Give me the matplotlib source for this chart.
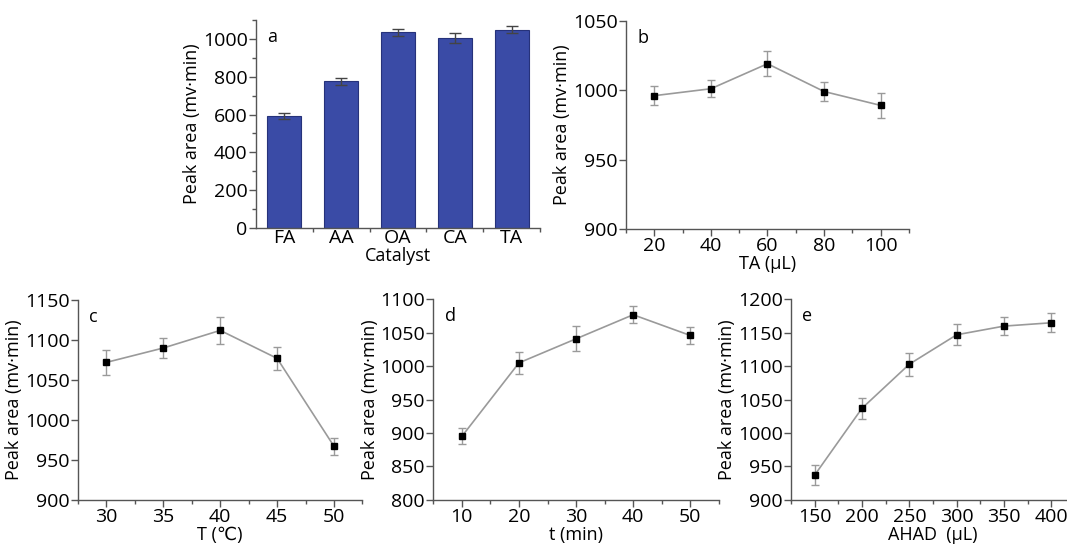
import matplotlib
matplotlib.use("Agg")
import matplotlib.pyplot as plt
from matplotlib.ticker import MultipleLocator, FixedLocator

plt.rcParams['font.family'] = ['Open Sans', 'DejaVu Sans']

# Panel a
catalysts = ["FA", "AA", "OA", "CA", "TA"]
catalyst_area = [593, 775, 1035, 1005, 1049]
catalyst_err = [16, 18, 18, 27, 19]

# Panel b
ta_vol = [20, 40, 60, 80, 100]
ta_area = [996, 1001, 1019, 999, 989]
ta_err = [7, 6, 9, 7, 9]

# Panel c
temp = [30, 35, 40, 45, 50]
temp_area = [1072, 1090, 1112, 1077, 967]
temp_err = [16, 12, 17, 14, 11]

# Panel d
time_min = [10, 20, 30, 40, 50]
time_area = [895, 1005, 1041, 1077, 1046]
time_err = [12, 16, 19, 13, 13]

# Panel e
ahad = [150, 200, 250, 300, 350, 400]
ahad_area = [937, 1037, 1103, 1147, 1160, 1165]
ahad_err = [15, 16, 17, 16, 13, 14]

fig = plt.figure(figsize=(10.67, 5.46), dpi=100)

TFS = 14
LFS = 13
spine_col = "#555555"

def style(ax):
    for s in ["top", "right"]:
        ax.spines[s].set_visible(False)
    for s in ["left", "bottom"]:
        ax.spines[s].set_color(spine_col)
        ax.spines[s].set_linewidth(1.0)
    ax.tick_params(which="major", direction="out", length=5, width=1, color=spine_col,
                   labelsize=TFS, pad=1)
    ax.tick_params(which="minor", direction="out", length=3, width=1, color=spine_col)
    ax.set_ylabel("Peak area (mv·min)", fontsize=LFS, labelpad=1)

def line_panel(rect, x, y, e, xlim, ylim, xmaj, ymaj, xlabel, letter):
    ax = fig.add_axes(rect)
    ax.errorbar(x, y, yerr=e, color="#9a9a9a", ecolor="#9a9a9a", elinewidth=1,
                capsize=3, capthick=1, lw=1.2, marker="s", ms=5,
                mfc="black", mec="black", zorder=3)
    ax.set_xlim(*xlim)
    ax.set_ylim(*ylim)
    ax.xaxis.set_major_locator(MultipleLocator(xmaj))
    ax.xaxis.set_minor_locator(MultipleLocator(xmaj / 2))
    ax.yaxis.set_major_locator(MultipleLocator(ymaj))
    ax.set_xlabel(xlabel, fontsize=LFS, labelpad=0)
    style(ax)
    ax.text(0.04, 0.96, letter, transform=ax.transAxes, fontsize=LFS, va="top", ha="left")
    return ax

# a
axa = fig.add_axes([0.2399, 0.5824, 0.2662, 0.381])
xs = list(range(1, len(catalysts) + 1))
axa.bar(xs, catalyst_area, width=0.6, color="#3a4ba6", edgecolor="#26327a", linewidth=0.8,
        yerr=catalyst_err, error_kw=dict(ecolor="#444444", elinewidth=1, capsize=4, capthick=1))
axa.set_xlim(0.5, 5.5)
axa.set_ylim(0, 1100)
axa.set_xticks(xs)
axa.set_xticklabels(catalysts)
axa.xaxis.set_minor_locator(FixedLocator([1.5, 2.5, 3.5, 4.5, 5.5]))
axa.yaxis.set_major_locator(FixedLocator([0, 200, 400, 600, 800, 1000]))
axa.yaxis.set_minor_locator(MultipleLocator(100))
axa.set_xlabel("Catalyst", fontsize=LFS, labelpad=0)
style(axa)
axa.tick_params(axis="x", which="major", length=0)
axa.text(0.04, 0.96, "a", transform=axa.transAxes, fontsize=LFS, va="top", ha="left")

# b
line_panel([0.5867, 0.5806, 0.2652, 0.3815], ta_vol, ta_area, ta_err,
           (10, 110), (900, 1050), 20, 50, "TA (μL)", "b")
# c
line_panel([0.0731, 0.0845, 0.2666, 0.366], temp, temp_area, temp_err,
           (27.5, 52.5), (900, 1150), 5, 50, "T (℃)", "c")
# d
line_panel([0.4061, 0.0845, 0.2676, 0.3672], time_min, time_area, time_err,
           (5, 55), (800, 1100), 10, 50, "t (min)", "d")
# e
line_panel([0.7413, 0.0845, 0.2662, 0.3672], ahad, ahad_area, ahad_err,
           (125, 425), (900, 1200), 50, 50, "AHAD  (μL)", "e")

fig.savefig("out.png", dpi=100)
